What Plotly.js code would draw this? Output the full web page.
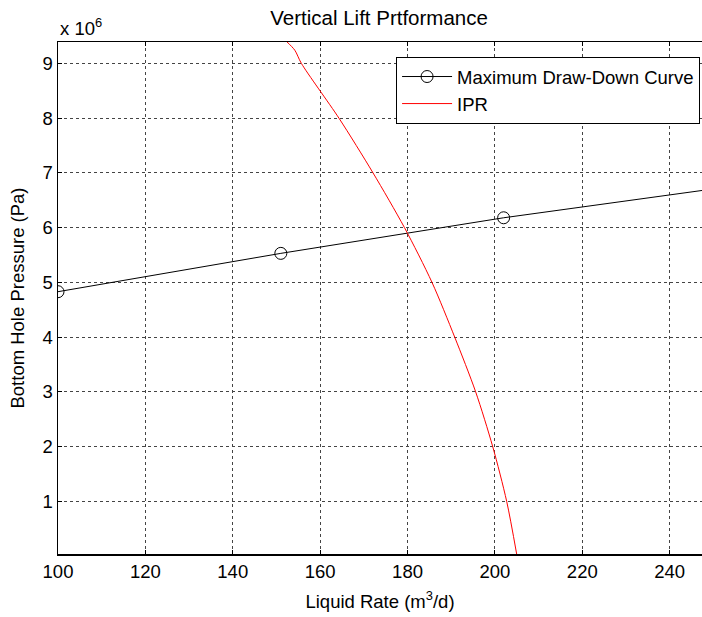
<!DOCTYPE html>
<html>
<head>
<meta charset="utf-8">
<script src="https://cdn.plot.ly/plotly-3.0.1.min.js"></script>
<style>html,body{margin:0;padding:0;background:#fff;}#chart{width:702px;height:617px;}</style>
</head>
<body>
<div id="chart"></div>
<script>
// Maximum Draw-Down Curve (liquid rate m3/d, pressure in 1e6 Pa)
var ddRate = [100, 151, 202, 253];
var ddPressure = [4.83, 5.53, 6.18, 6.74];
// IPR curve
var iprRate = [152.3, 154.2, 155.7, 164.3, 172.1, 179.3, 185.6, 190.8, 195.6, 199.5, 202.7, 205.0];
var iprPressure = [9.40, 9.24, 9.0, 8.0, 7.0, 6.0, 5.0, 4.0, 3.0, 2.0, 1.0, 0.03];
var yTicks = [1, 2, 3, 4, 5, 6, 7, 8, 9];
var xTicks = [100, 120, 140, 160, 180, 200, 220, 240];

var font = 'Arial, "Liberation Sans", sans-serif';
var fs = 18.5;
var traces = [
  {x: ddRate, y: ddPressure, mode: 'lines+markers', name: 'Maximum Draw-Down Curve',
   line: {color: '#000000', width: 1},
   marker: {symbol: 'circle-open', size: 12, color: '#000000', line: {width: 1}}},
  {x: iprRate, y: iprPressure, mode: 'lines', name: 'IPR',
   line: {color: '#ff0000', width: 1, shape: 'spline', smoothing: 0.8}}
];
var layout = {
  width: 702, height: 617,
  margin: {l: 58, r: 0, t: 42, b: 63},
  paper_bgcolor: '#ffffff', plot_bgcolor: '#ffffff',
  font: {family: font, size: fs, color: '#000000'},
  title: {text: 'Vertical Lift Prtformance', x: 0.54, xanchor: 'center', y: 0.971, yanchor: 'middle',
          font: {family: font, size: 20.5, color: '#000000'}},
  showlegend: true,
  legend: {x: 0.997, xanchor: 'right', y: 0.9707, yanchor: 'top',
           bordercolor: '#000000', borderwidth: 1, bgcolor: '#ffffff', itemwidth: 50,
           font: {family: font, size: fs, color: '#000000'}, tracegroupgap: 0},
  xaxis: {range: [100, 247.4], tickvals: xTicks, ticktext: xTicks.map(String),
          showgrid: true, gridcolor: '#444444', griddash: 'dot', gridwidth: 1,
          showline: true, linecolor: '#000000', linewidth: 1.5, mirror: 'ticks',
          ticks: 'inside', ticklen: 4, tickcolor: '#000000', zeroline: false,
          tickfont: {family: font, size: fs, color: '#000000'},
          title: {text: 'Liquid Rate (m<sup>3</sup>/d)', standoff: 14, font: {family: font, size: fs, color: '#000000'}}},
  yaxis: {range: [0.04, 9.39], tickvals: yTicks, ticktext: yTicks.map(String),
          showgrid: true, gridcolor: '#444444', griddash: 'dot', gridwidth: 1,
          showline: true, linecolor: '#000000', linewidth: 1.5, mirror: false,
          ticks: 'inside', ticklen: 4, tickcolor: '#000000', zeroline: false,
          tickfont: {family: font, size: fs, color: '#000000'},
          title: {text: 'Bottom Hole Pressure (Pa)', standoff: 13, font: {family: font, size: fs, color: '#000000'}}},
  annotations: [{text: 'x 10<sup>6</sup>', xref: 'paper', yref: 'paper', x: 0, y: 1, xanchor: 'left', yanchor: 'bottom',
                 yshift: 1, showarrow: false, font: {family: font, size: fs, color: '#000000'}}]
};
Plotly.newPlot('chart', traces, layout, {displayModeBar: false, staticPlot: true});
</script>
</body>
</html>
